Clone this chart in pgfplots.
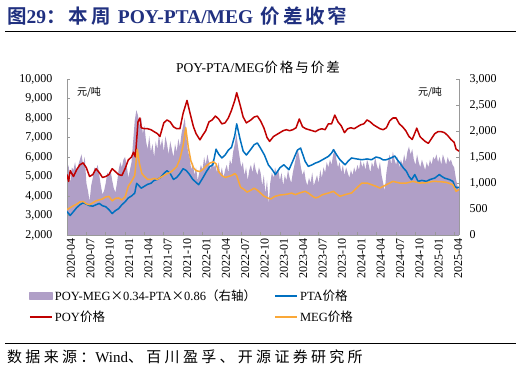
\documentclass[border=0pt]{standalone}
\usepackage{fontspec}
\setmainfont{Liberation Serif}
\newfontfamily\cjk[BoldFont={Noto Sans CJK SC Bold}]{Noto Sans CJK SC}
\newfontfamily\cjksp[LetterSpace=15,BoldFont={Noto Sans CJK SC Bold}]{Noto Sans CJK SC}
\newfontfamily\cjkspp[LetterSpace=22]{Noto Sans CJK SC}
\newcommand\C[1]{{\cjk #1}}
\newcommand\CS[1]{{\cjksp #1}}
\newcommand\CSS[1]{{\cjkspp #1}}
\usepackage{pgfplots}
\pgfplotsset{compat=1.18}
\definecolor{poyc}{RGB}{192,0,0}
\definecolor{ptac}{RGB}{0,112,192}
\definecolor{megc}{RGB}{250,168,56}
\definecolor{sprc}{RGB}{176,159,199}
\definecolor{titc}{RGB}{32,48,128}
\pgfplotsset{
  base/.style={
    at={(67pt,139pt)}, anchor=south west, width=392pt, height=156pt, scale only axis,
    xmin=0, xmax=60.75,
    tick align=inside, major tick length=3pt,
    tick style={draw=gray!80, line width=0.6pt},
    axis line style={draw=gray!80, line width=0.8pt, -},
    tick label style={font=\fontsize{12}{12}\selectfont},
    scaled y ticks=false,
    /pgf/number format/1000 sep={,},
    /pgf/number format/assume math mode=true,
  }
}
\begin{document}
\begin{tikzpicture}
\useasboundingbox (0pt,0pt) rectangle (521pt,374pt);
\fill[white] (0pt,0pt) rectangle (521pt,374pt);
\node[anchor=west, text=titc, font=\fontsize{19.5}{20}\selectfont\bfseries, inner sep=0pt] at (7pt,358pt) {\CS{图}29\CS{：本周 }POY-PTA/MEG\CS{ 价差收窄}};
\draw[line width=0.8pt] (5pt,343pt) -- (516pt,343pt);
\node[font=\fontsize{13.5}{14}\selectfont] at (258pt,307pt) {POY-PTA/MEG\CS{价格与价差}};
\node[font=\cjk\fontsize{10}{11}\selectfont] at (89pt,282pt) {元/吨};
\node[font=\cjk\fontsize{10}{11}\selectfont] at (430pt,282pt) {元/吨};
\draw[line width=0.8pt] (5pt,31pt) -- (516pt,31pt);
\node[anchor=west, font=\fontsize{15}{16}\selectfont, inner sep=0pt] at (7pt,17pt) {\CSS{数据来源：}Wind\CSS{、百川盈孚、开源证券研究所}};

% right axis with spread area
\begin{axis}[base, ymin=0, ymax=3000, ytick={0,500,...,3000},
  axis y line*=right, axis x line=none,
  yticklabel style={xshift=7pt}]
\addplot[fill=sprc, draw=none] table[row sep=\\] {
x y\\
0 1150\\ 0.25 1350\\ 0.5 1000\\ 0.75 1300\\ 1 1250\\ 1.25 1400\\ 1.5 1200\\ 1.75 1350\\
2 1450\\ 2.25 1550\\ 2.5 1350\\ 2.75 1500\\ 3 1000\\ 3.25 850\\ 3.5 650\\ 3.75 950\\
4 1100\\ 4.25 1300\\ 4.5 1250\\ 4.75 1350\\ 5 1150\\ 5.25 950\\ 5.5 780\\ 5.75 850\\
6 1000\\ 6.25 1200\\ 6.5 1150\\ 6.75 1250\\ 7 1050\\ 7.25 900\\ 7.5 820\\ 7.75 1000\\
8 1250\\ 8.25 1400\\ 8.5 1300\\ 8.75 1450\\ 9 1500\\ 9.25 1350\\ 9.5 1100\\ 9.75 1250\\
10 1400\\ 10.25 1800\\ 10.5 2200\\ 10.75 2400\\ 11 2300\\ 11.25 2100\\ 11.5 2250\\ 11.75 1950\\
12 2100\\ 12.25 1800\\ 12.5 1650\\ 12.75 1900\\ 13 1600\\ 13.25 1750\\ 13.5 1500\\ 13.75 1800\\
14 1650\\ 14.25 1950\\ 14.5 1700\\ 14.75 1850\\ 15 1600\\ 15.25 1900\\ 15.5 1750\\ 15.75 1550\\
16 1800\\ 16.25 1650\\ 16.5 1500\\ 16.75 1750\\ 17 1600\\ 17.25 1850\\ 17.5 1700\\ 17.75 1950\\
18 2100\\ 18.25 2250\\ 18.5 1900\\ 18.75 1600\\ 19 1500\\ 19.25 1250\\ 19.5 1400\\ 19.75 1150\\
20 1300\\ 20.25 1050\\ 20.5 1200\\ 20.75 1350\\ 21 1250\\ 21.25 1500\\ 21.5 1350\\ 21.75 1550\\
22 1400\\ 22.25 1250\\ 22.5 1450\\ 22.75 1300\\ 23 1350\\ 23.25 1200\\ 23.5 1400\\ 23.75 1150\\
24 1300\\ 24.25 1100\\ 24.5 1250\\ 24.75 1350\\ 25 1200\\ 25.25 1450\\ 25.5 1350\\ 25.75 1600\\
26 1750\\ 26.25 1950\\ 26.5 1700\\ 26.75 1500\\ 27 1300\\ 27.25 1400\\ 27.5 1150\\ 27.75 1300\\
28 1050\\ 28.25 1250\\ 28.5 1350\\ 28.75 1200\\ 29 1400\\ 29.25 1250\\ 29.5 1150\\ 29.75 1300\\
30 1200\\ 30.25 950\\ 30.5 1150\\ 30.75 800\\ 31 1050\\ 31.25 600\\ 31.5 1000\\ 31.75 1200\\
32 1100\\ 32.25 1300\\ 32.5 1150\\ 32.75 1250\\ 33 1050\\ 33.25 1200\\ 33.5 950\\ 33.75 1150\\
34 1050\\ 34.25 1250\\ 34.5 1100\\ 34.75 1000\\ 35 1200\\ 35.25 1350\\ 35.5 1500\\ 35.75 1650\\
36 1500\\ 36.25 1300\\ 36.5 1150\\ 36.75 1250\\ 37 1050\\ 37.25 950\\ 37.5 1100\\ 37.75 1000\\
38 1200\\ 38.25 950\\ 38.5 1050\\ 38.75 1150\\ 39 1000\\ 39.25 1250\\ 39.5 1100\\ 39.75 1300\\
40 1200\\ 40.25 1400\\ 40.5 1300\\ 40.75 1450\\ 41 1350\\ 41.25 1550\\ 41.5 1650\\ 41.75 1450\\
42 1300\\ 42.25 1400\\ 42.5 1200\\ 42.75 1350\\ 43 1150\\ 43.25 1300\\ 43.5 1200\\ 43.75 1100\\
44 1250\\ 44.25 1150\\ 44.5 1300\\ 44.75 1200\\ 45 1350\\ 45.25 1250\\ 45.5 1450\\ 45.75 1300\\
46 1400\\ 46.25 1250\\ 46.5 1450\\ 46.75 1350\\ 47 1200\\ 47.25 1400\\ 47.5 1300\\ 47.75 1500\\
48 1350\\ 48.25 1250\\ 48.5 1400\\ 48.75 1150\\ 49 1000\\ 49.25 850\\ 49.5 1200\\ 49.75 1400\\
50 1550\\ 50.25 1350\\ 50.5 1600\\ 50.75 1450\\ 51 1350\\ 51.25 1500\\ 51.5 1300\\ 51.75 1450\\
52 1350\\ 52.25 1550\\ 52.5 1400\\ 52.75 1600\\ 53 1700\\ 53.25 1550\\ 53.5 1650\\ 53.75 1450\\
54 1350\\ 54.25 1550\\ 54.5 1400\\ 54.75 1300\\ 55 1450\\ 55.25 1350\\ 55.5 1250\\ 55.75 1400\\
56 1300\\ 56.25 1450\\ 56.5 1350\\ 56.75 1500\\ 57 1450\\ 57.25 1550\\ 57.5 1400\\ 57.75 1500\\
58 1350\\ 58.25 1550\\ 58.5 1450\\ 58.75 1350\\ 59 1500\\ 59.25 1400\\ 59.5 1450\\ 59.75 1350\\
60 1300\\ 60.25 1100\\ 60.5 950\\ 60.75 870\\
} \closedcycle;
\end{axis}

% left axis with prices
\begin{axis}[base, ymin=2000, ymax=10000, ytick={2000,3000,...,10000},
  axis y line*=left, axis x line*=bottom,
  yticklabel style={xshift=-11pt},
  xtick={0,3,...,60},
  xticklabels={2020-04,2020-07,2020-10,2021-01,2021-04,2021-07,2021-10,2022-01,2022-04,2022-07,2022-10,2023-01,2023-04,2023-07,2023-10,2024-01,2024-04,2024-07,2024-10,2025-01,2025-04},
  xticklabel style={rotate=90, anchor=east, yshift=-4pt},
  legend columns=2,
  legend cell align=left,
  legend image code/.code={\draw[#1, line width=2pt] (0pt,0pt) -- (22pt,0pt);},
  legend style={draw=none, fill=none, at={(axis description cs:-0.1,-0.33)}, anchor=north west,
    font=\fontsize{12.5}{13}\selectfont, row sep=5pt, inner sep=1pt,
    /tikz/every even column/.append style={column sep=16pt}},
  every axis plot/.append style={line width=1.5pt, line join=round},
]
\addlegendimage{legend image code/.code={\fill[sprc] (0pt,-3.5pt) rectangle (22pt,3.5pt);}}
\addlegendentry{POY-MEG\C{×}0.34-PTA\C{×}0.86\C{（右轴）}}
\addplot[ptac] table[row sep=\\] {
x y\\
0 3200\\ 0.5 3000\\ 1 3200\\ 1.5 3400\\ 2 3550\\ 2.5 3650\\ 3 3580\\ 3.5 3500\\ 4 3480\\ 4.5 3550\\
5 3620\\ 5.5 3500\\ 6 3450\\ 6.5 3300\\ 7 3100\\ 7.5 3250\\ 8 3350\\ 8.5 3550\\ 9 3700\\ 9.5 3900\\
10 4000\\ 10.5 4150\\ 10.8 4650\\ 11.1 4550\\ 11.5 4400\\ 12 4500\\ 12.5 4600\\ 13 4650\\ 13.5 4800\\
14 4850\\ 14.5 4950\\ 15 5150\\ 15.5 5300\\ 16 5150\\ 16.5 4850\\ 17 4950\\ 17.5 5150\\ 18 5400\\
18.5 5300\\ 19 5100\\ 19.5 4850\\ 20 4700\\ 20.4 4580\\ 21 4900\\ 21.6 5250\\ 22.1 5500\\ 22.6 5600\\
23.1 6400\\ 23.5 6150\\ 24 5950\\ 24.5 6100\\ 25 6350\\ 25.5 6500\\ 26 7100\\ 26.3 7700\\ 26.8 6950\\
27.3 6300\\ 27.8 6100\\ 28.5 6400\\ 29 6630\\ 29.5 6720\\ 30 6450\\ 30.6 6100\\ 31.2 5600\\ 31.8 5350\\
32.3 5100\\ 33 5450\\ 33.6 5600\\ 34.4 5350\\ 35 5800\\ 35.7 6350\\ 36.2 6460\\ 36.9 5780\\ 37.4 5520\\
38 5600\\ 38.5 5690\\ 39 5750\\ 39.6 5860\\ 40.5 6030\\ 41 6200\\ 41.3 6375\\ 41.8 6100\\ 42.3 5860\\
43.1 5600\\ 43.6 5800\\ 44.1 5950\\ 44.9 5900\\ 45.7 5860\\ 46.5 5900\\ 47.2 5860\\ 47.9 6000\\
48.5 5950\\ 49 5850\\ 49.5 5860\\ 50.2 5950\\ 50.8 6050\\ 51.2 5850\\ 51.6 5690\\ 52.1 5450\\
52.6 5265\\ 53 5000\\ 53.4 4835\\ 53.9 5100\\ 54.4 4750\\ 55 4800\\ 55.7 4750\\ 56.3 4850\\ 57 4920\\
57.7 5100\\ 58.1 5000\\ 58.5 4920\\ 59.3 4835\\ 59.8 4750\\ 60.1 4500\\ 60.4 4420\\ 60.75 4450\\
};
\addlegendentry{PTA\C{价格}}
\addplot[poyc] table[row sep=\\] {
x y\\
0 5100\\ 0.25 4750\\ 0.5 5300\\ 1 5000\\ 1.5 5350\\ 2 5600\\ 2.5 5700\\ 3 5450\\ 3.5 5000\\ 4 5100\\
4.5 5400\\ 5 5200\\ 5.5 4950\\ 6 5000\\ 6.5 5100\\ 7 5400\\ 7.5 5250\\ 8 5100\\ 8.5 5050\\ 9 5400\\
9.5 5850\\ 10 6000\\ 10.3 6250\\ 10.6 6000\\ 11 7800\\ 11.3 8000\\ 11.5 7500\\ 12 7450\\ 12.5 7450\\
13 7400\\ 13.5 7300\\ 14 7200\\ 14.4 7050\\ 15 7750\\ 15.5 7900\\ 16 7800\\ 16.5 7550\\ 17 7450\\
17.5 7450\\ 18 8250\\ 18.6 8900\\ 19.1 8200\\ 19.6 7550\\ 20 7200\\ 20.6 6880\\ 21 7100\\ 21.5 7350\\
22 7800\\ 22.5 7900\\ 23 8100\\ 23.5 7950\\ 24 7700\\ 24.5 7750\\ 25 8000\\ 25.5 8400\\ 26 8900\\
26.3 9300\\ 26.8 8700\\ 27.3 8050\\ 27.8 7750\\ 28.5 7900\\ 29 8050\\ 29.5 8100\\ 30 7850\\ 30.5 7500\\
31 7000\\ 31.4 6800\\ 32 7050\\ 32.5 7150\\ 33 7250\\ 33.5 7350\\ 34 7400\\ 34.5 7350\\ 35 7400\\
35.5 7500\\ 36 7950\\ 36.5 7550\\ 37 7450\\ 37.5 7400\\ 38 7350\\ 38.5 7300\\ 39 7400\\ 39.5 7450\\
40 7400\\ 40.5 7700\\ 41 7700\\ 41.5 8150\\ 42 7800\\ 42.5 7600\\ 43 7250\\ 43.5 7450\\ 44 7500\\
44.5 7450\\ 45 7550\\ 45.5 7650\\ 46 7700\\ 46.5 7900\\ 47 7800\\ 47.5 7650\\ 48 7550\\ 48.5 7450\\
49 7400\\ 49.5 7500\\ 50 7850\\ 50.5 8000\\ 51 8000\\ 51.5 7700\\ 52 7550\\ 52.5 7350\\ 53 7050\\
53.5 6900\\ 54 7300\\ 54.2 7480\\ 54.7 7050\\ 55 6950\\ 55.5 6800\\ 56 6700\\ 56.5 6950\\ 57 7200\\
57.5 7300\\ 58 7300\\ 58.5 7250\\ 59 7100\\ 59.5 6900\\ 60 6750\\ 60.3 6400\\ 60.75 6300\\
};
\addlegendentry{POY\C{价格}}
\addplot[megc] table[row sep=\\] {
x y\\
0 3300\\ 0.5 3400\\ 1 3500\\ 1.5 3580\\ 2 3700\\ 2.5 3720\\ 3 3600\\ 3.5 3550\\ 4 3650\\ 4.5 3750\\
5 3800\\ 5.5 3850\\ 6 3950\\ 6.5 3980\\ 7 3750\\ 7.5 3880\\ 8 3900\\ 8.5 3800\\ 9 3950\\ 9.5 4500\\
10 4750\\ 10.5 5050\\ 10.9 6400\\ 11.2 5700\\ 11.6 5150\\ 12 5000\\ 12.5 4850\\ 13 4850\\ 13.5 4900\\
14 4850\\ 14.5 4950\\ 15 5050\\ 15.5 5150\\ 16 5200\\ 16.5 5350\\ 17 5500\\ 17.5 5900\\ 18 6600\\
18.4 7500\\ 18.8 6500\\ 19.2 5800\\ 19.6 5450\\ 20 5300\\ 20.6 5250\\ 21 5350\\ 21.6 5550\\ 22.2 5700\\
22.7 5750\\ 23.1 5650\\ 23.5 5250\\ 24 5050\\ 24.5 4950\\ 25 5000\\ 25.5 5050\\ 26 5150\\ 26.3 5050\\
26.9 4450\\ 27.4 4350\\ 27.9 4200\\ 28.5 4300\\ 29 4400\\ 29.5 4300\\ 30 4150\\ 30.5 4000\\ 31.1 3900\\
31.6 3850\\ 32.2 3980\\ 33 4050\\ 33.6 4070\\ 34.2 4100\\ 34.8 4150\\ 35.4 4070\\ 36 4150\\ 36.9 4240\\
37.4 4150\\ 38 4000\\ 38.5 3900\\ 39 3950\\ 39.6 4070\\ 40.5 4150\\ 41.3 4240\\ 41.8 4100\\ 42.3 3985\\
43.1 4070\\ 44.1 4155\\ 44.9 4410\\ 45.7 4665\\ 46.5 4665\\ 47.2 4580\\ 47.9 4495\\ 48.5 4410\\
49.5 4580\\ 50.5 4750\\ 51.6 4665\\ 52.6 4665\\ 53.6 4750\\ 54.7 4665\\ 55.7 4680\\ 56.7 4750\\
57.7 4740\\ 58.8 4700\\ 59.8 4580\\ 60.3 4240\\ 60.75 4330\\
};
\addlegendentry{MEG\C{价格}}
\end{axis}
\end{tikzpicture}
\end{document}
